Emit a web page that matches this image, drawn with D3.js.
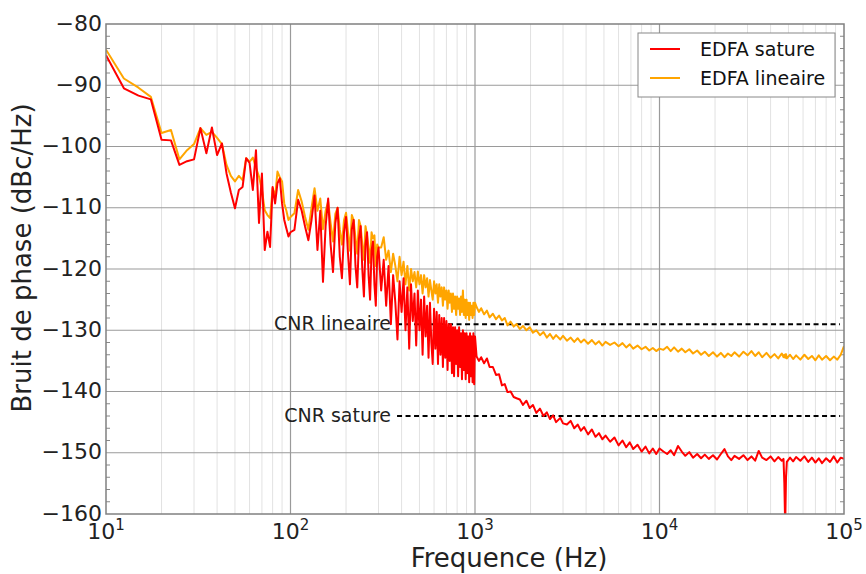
<!DOCTYPE html>
<html><head><meta charset="utf-8">
<script src="https://cdn.jsdelivr.net/npm/d3@7"></script>
<style>
body{margin:0;background:#fff;}
text{font-family:"DejaVu Sans",sans-serif;}
</style></head>
<body><svg id="c" width="866" height="574"></svg>
<script>
// ---------- data ----------
const freqA = [10,12.5,15,17.5,20,22.5,25,27.5,30,32.5,35,37.5,40,42.5,45,47.5,50,52.5,55,57.5,60,62.5,65,67.5,70,72.5,75,77.5,80,82.5,85,87.5,90,92.5,95,97.5,100];
const satA = [-85.1,-90.5,-91.7,-92.3,-98.9,-99.0,-103.0,-102.4,-102.1,-97.0,-101.1,-96.9,-101.4,-99.5,-104.4,-107.5,-110.1,-107.1,-106.6,-101.9,-102.7,-107.1,-100.6,-112.5,-104.4,-116.9,-113.9,-116.4,-106.6,-109.3,-106.0,-105.2,-109.3,-112.0,-113.4,-114.7,-114.0];
const linA = [-84.2,-88.9,-90.4,-91.9,-97.8,-97.3,-102.1,-100.6,-99.6,-97.0,-98.1,-97.6,-98.6,-99.6,-103.0,-104.8,-105.7,-104.8,-105.5,-101.9,-102.5,-101.8,-103.5,-104.9,-107.1,-110.4,-111.2,-111.7,-106.8,-108.2,-104.1,-105.0,-105.7,-109.3,-110.5,-112.0,-111.5];

const freqB = [105,110,115,120,125,130,135,140,145,150,155,160,165,170,175,180,185,190,195,200,205,210,215,220,225,230,235,240,245,250,255,260,265,270,275,280,285,290,295,300];
const satB = [-113.6,-108.7,-110.5,-113.1,-115.3,-112.0,-108.0,-116.9,-110.5,-122.1,-113.0,-108.5,-116.0,-120.5,-112.5,-110.0,-118.0,-121.5,-114.0,-111.5,-117.5,-122.5,-113.5,-112.0,-119.5,-123.0,-115.0,-113.0,-120.0,-124.5,-116.0,-114.0,-121.0,-125.0,-117.0,-115.5,-122.5,-126.0,-118.0,-116.5];
const linB = [-110.9,-107.1,-109.0,-111.5,-113.6,-110.0,-106.8,-110.5,-108.5,-113.5,-110.5,-109.0,-112.5,-115.5,-111.0,-110.0,-113.5,-116.0,-112.0,-110.8,-114.0,-117.0,-111.2,-112.0,-115.0,-117.5,-112.0,-113.0,-116.0,-118.5,-113.0,-114.5,-116.5,-119.0,-114.0,-115.0,-114.5,-119.5,-116.0,-116.5];

const freqC = [310,320,330,340,350,360,370,380,390,400,410,420,430,440,450,460,470,480,490,500,510,520,530,540,550,560,570,580,590,600,610,620,630,640,650,660,670,680,690,700,710,720,730,740,750,760,770,780,790,800,810,820,830,840,850,860,870,880,890,900,910,920,930,940,950,960,970,980,990,1000];
const satC = [-123.5,-118.5,-126.0,-119.5,-129.0,-121.0,-125.5,-131.5,-122.0,-127.0,-121.5,-130.0,-123.0,-133.0,-122.5,-128.5,-124.0,-132.5,-123.5,-130.0,-125.0,-134.0,-124.5,-131.0,-126.0,-134.5,-125.5,-132.0,-135.5,-126.5,-133.0,-127.0,-135.5,-127.5,-134.0,-128.0,-136.0,-128.0,-134.5,-128.5,-136.5,-129.0,-135.0,-129.0,-137.0,-129.5,-137.5,-129.5,-135.5,-130.0,-137.5,-129.5,-136.0,-130.5,-138.0,-130.0,-136.5,-130.5,-138.0,-130.5,-137.0,-131.0,-138.5,-130.5,-137.5,-131.0,-138.5,-130.5,-138.8,-131.0];
const linC = [-116.5,-114.8,-118.5,-117.0,-120.5,-117.5,-119.5,-122.0,-118.0,-121.0,-118.8,-122.5,-119.5,-123.5,-120.0,-122.0,-120.5,-123.0,-120.4,-122.5,-121.0,-124.0,-121.0,-123.0,-121.5,-124.5,-121.8,-123.5,-125.0,-122.0,-124.0,-122.5,-125.5,-122.5,-124.5,-123.0,-126.0,-123.0,-125.0,-123.5,-126.5,-123.5,-125.5,-124.0,-127.0,-124.0,-126.5,-124.5,-127.5,-124.5,-126.5,-124.8,-127.5,-124.5,-127.0,-123.5,-127.5,-125.0,-128.0,-125.0,-127.5,-125.5,-128.3,-125.5,-127.5,-126.0,-128.0,-125.5,-127.5,-125.5];

const freqD = [1020,1050,1080,1120,1160,1200,1250,1300,1350,1400,1450,1500,1560,1620,1680,1750,1820,1900,1980,2060,2150,2250,2350,2450,2550,2650,2750,2900,3000,3150,3300,3450,3600,3750,3900,4100,4300,4500,4700,4900,5100,5400,5700,6000,6300,6600,6900,7200,7600,8000,8400,8800,9200,9600,10000];
const satD = [-134.3,-135.0,-134.4,-135.4,-134.6,-136.0,-136.0,-137.3,-137.2,-139.0,-138.8,-140.1,-140.0,-140.9,-141.1,-141.3,-142.2,-141.5,-142.7,-142.2,-143.5,-142.8,-144.0,-143.4,-144.5,-143.9,-145.0,-144.3,-145.2,-145.4,-144.8,-146.0,-145.4,-146.4,-145.8,-147.0,-146.2,-147.4,-146.8,-147.8,-147.2,-148.2,-147.5,-148.8,-148.0,-149.1,-148.3,-149.4,-148.7,-149.8,-149.0,-150.1,-149.3,-150.2,-149.3];
const linD = [-126.2,-127.0,-126.4,-127.4,-126.8,-127.9,-127.3,-128.2,-127.6,-128.4,-128.0,-129.2,-128.6,-129.4,-129.0,-129.8,-129.3,-130.0,-129.5,-130.4,-130.0,-130.8,-130.3,-131.2,-130.6,-131.4,-130.8,-131.5,-130.9,-131.7,-131.2,-131.9,-131.3,-132.0,-131.5,-132.2,-131.6,-132.3,-131.8,-132.5,-131.9,-132.4,-132.0,-132.6,-132.1,-132.8,-132.3,-133.0,-132.5,-133.1,-132.7,-133.3,-132.9,-133.4,-133.0];

const freqE = [10500,11000,11500,12000,12600,13200,13800,14500,15200,16000,16800,17600,18500,19500,20500,21500,22500,23500,24500,25500,27000,28500,30000,31500,33000,34500,36000,38000,40000,42000,44000,46000,47000,47500,48000,48500,49000,51000,53000,55000,58000,61000,64000,67000,70000,73000,76000,80000,84000,88000,92000,96000,100000];
const satE = [-149.8,-150.2,-149.6,-150.4,-148.9,-149.8,-150.5,-149.9,-150.8,-150.2,-150.9,-150.3,-151.0,-150.4,-151.1,-150.2,-149.4,-150.6,-151.2,-150.5,-151.0,-150.4,-151.2,-150.6,-151.3,-149.7,-150.8,-151.2,-150.6,-151.4,-150.7,-151.3,-151.0,-155.0,-162.0,-154.0,-151.5,-150.8,-151.4,-150.7,-151.3,-150.6,-151.5,-150.8,-151.6,-150.9,-151.7,-150.9,-151.5,-150.6,-151.6,-150.8,-151.0];
const linE = [-133.2,-132.7,-133.4,-132.8,-133.5,-133.0,-133.6,-133.1,-133.8,-133.3,-134.0,-133.5,-134.2,-133.6,-134.3,-133.7,-134.4,-133.8,-134.2,-133.6,-134.3,-133.5,-134.1,-133.4,-134.2,-133.6,-134.4,-133.7,-134.5,-133.9,-134.6,-133.8,-134.4,-134.0,-134.5,-133.9,-134.6,-134.0,-134.7,-134.1,-134.8,-134.0,-134.7,-134.2,-134.9,-134.1,-134.8,-134.2,-134.9,-134.3,-134.8,-134.0,-132.6];

const seriesNames = ["EDFA sature", "EDFA lineaire"];
const cnrLevels = [-129, -144];
const cnrLabels = ["CNR lineaire", "CNR sature"];
const cnrStart = 378, cnrEnd = 95000;
const yTicks = [-80,-90,-100,-110,-120,-130,-140,-150,-160];
const xTicks = [1e1,1e2,1e3,1e4,1e5];
const xExp = ["1","2","3","4","5"];

// ---------- build ----------
const freq = [].concat(freqA,freqB,freqC,freqD,freqE);
const sat = [].concat(satA,satB,satC,satD,satE);
const lin = [].concat(linA,linB,linC,linD,linE);

const svg = d3.select("#c");
const L=106,R=844,T=24,B=514;
const x = d3.scaleLog().domain([10,1e5]).range([L,R]);
const y = d3.scaleLinear().domain([-160,-80]).range([B,T]);

svg.append("defs").append("clipPath").attr("id","clip")
  .append("rect").attr("x",L).attr("y",T).attr("width",R-L).attr("height",B-T);

// minor vertical grid
const minors=[];
for(let d=1;d<5;d++) for(let m=2;m<10;m++) minors.push(m*Math.pow(10,d));
svg.append("g").selectAll("line").data(minors).join("line")
  .attr("x1",d=>x(d)).attr("x2",d=>x(d)).attr("y1",T).attr("y2",B)
  .attr("stroke","#e2e2e2").attr("stroke-width",1);
// major grid
svg.append("g").selectAll("line").data([1e2,1e3,1e4]).join("line")
  .attr("x1",d=>x(d)).attr("x2",d=>x(d)).attr("y1",T).attr("y2",B)
  .attr("stroke","#9a9a9a").attr("stroke-width",1.2);
svg.append("g").selectAll("line").data(yTicks.slice(1,-1)).join("line")
  .attr("x1",L).attr("x2",R).attr("y1",d=>y(d)).attr("y2",d=>y(d))
  .attr("stroke","#9a9a9a").attr("stroke-width",1.2);

// minor y ticks
const yMin = d3.range(-158,-80,2).filter(v=>v%10!==0);
svg.append("g").selectAll("line").data(yMin).join("line")
  .attr("x1",L).attr("x2",L+4).attr("y1",d=>y(d)).attr("y2",d=>y(d))
  .attr("stroke","#888").attr("stroke-width",1);
svg.append("g").selectAll("line").data(yMin).join("line")
  .attr("x1",R-4).attr("x2",R).attr("y1",d=>y(d)).attr("y2",d=>y(d))
  .attr("stroke","#888").attr("stroke-width",1);

// CNR dashed lines
cnrLevels.forEach((lv,i)=>{
  svg.append("line").attr("x1",x(cnrStart)).attr("x2",x(cnrEnd))
    .attr("y1",y(lv)).attr("y2",y(lv))
    .attr("stroke","#000").attr("stroke-width",2).attr("stroke-dasharray","5,3.5");
  svg.append("text").attr("x",x(cnrStart)-6).attr("y",y(lv)+6)
    .attr("text-anchor","end").attr("font-size",19).attr("fill","#222").text(cnrLabels[i]);
});

// lines
const line = d3.line().x((d,i)=>x(freq[i])).y(d=>y(d));
const g = svg.append("g").attr("clip-path","url(#clip)");
g.append("path").attr("d",line(lin)).attr("fill","none").attr("stroke","#ffa500").attr("stroke-width",2).attr("stroke-linejoin","round");
g.append("path").attr("d",line(sat)).attr("fill","none").attr("stroke","#ff0000").attr("stroke-width",2).attr("stroke-linejoin","round");

// frame
svg.append("rect").attr("x",L).attr("y",T).attr("width",R-L).attr("height",B-T)
  .attr("fill","none").attr("stroke","#808080").attr("stroke-width",1.5);

// y axis labels
const ya = svg.append("g").attr("transform",`translate(${L},0)`)
  .call(d3.axisLeft(y).tickValues(yTicks).tickSize(0).tickPadding(4).tickFormat(d3.format("d")));
ya.select(".domain").remove();
ya.selectAll("text").attr("font-size",22).attr("fill","#222").attr("font-family","DejaVu Sans").attr("dy","0.28em");

// x axis labels
const xa = svg.append("g").selectAll("text").data(xTicks).join("text")
  .attr("x",d=>x(d)).attr("y",539).attr("text-anchor","middle")
  .attr("font-size",22).attr("fill","#222");
xa.each(function(d,i){
  const t=d3.select(this);
  t.append("tspan").text("10");
  t.append("tspan").attr("dy",-9).attr("font-size",15).text(xExp[i]);
});

// axis titles
svg.append("text").attr("x",509).attr("y",567).attr("text-anchor","middle")
  .attr("font-size",26).attr("fill","#222").text("Frequence (Hz)");
svg.append("text").attr("transform",`translate(31,258) rotate(-90)`)
  .attr("text-anchor","middle").attr("font-size",26).attr("fill","#222").text("Bruit de phase (dBc/Hz)");

// legend
const lg = svg.append("g");
lg.append("rect").attr("x",638).attr("y",33).attr("width",197).attr("height",64)
  .attr("fill","#fff").attr("stroke","#888").attr("stroke-width",1);
["#ff0000","#ffa500"].forEach((c,i)=>{
  lg.append("line").attr("x1",650).attr("x2",680).attr("y1",49+i*29).attr("y2",49+i*29)
    .attr("stroke",c).attr("stroke-width",2);
  lg.append("text").attr("x",700).attr("y",56+i*29).attr("font-size",19).attr("fill","#111").text(seriesNames[i]);
});
</script></body></html>
